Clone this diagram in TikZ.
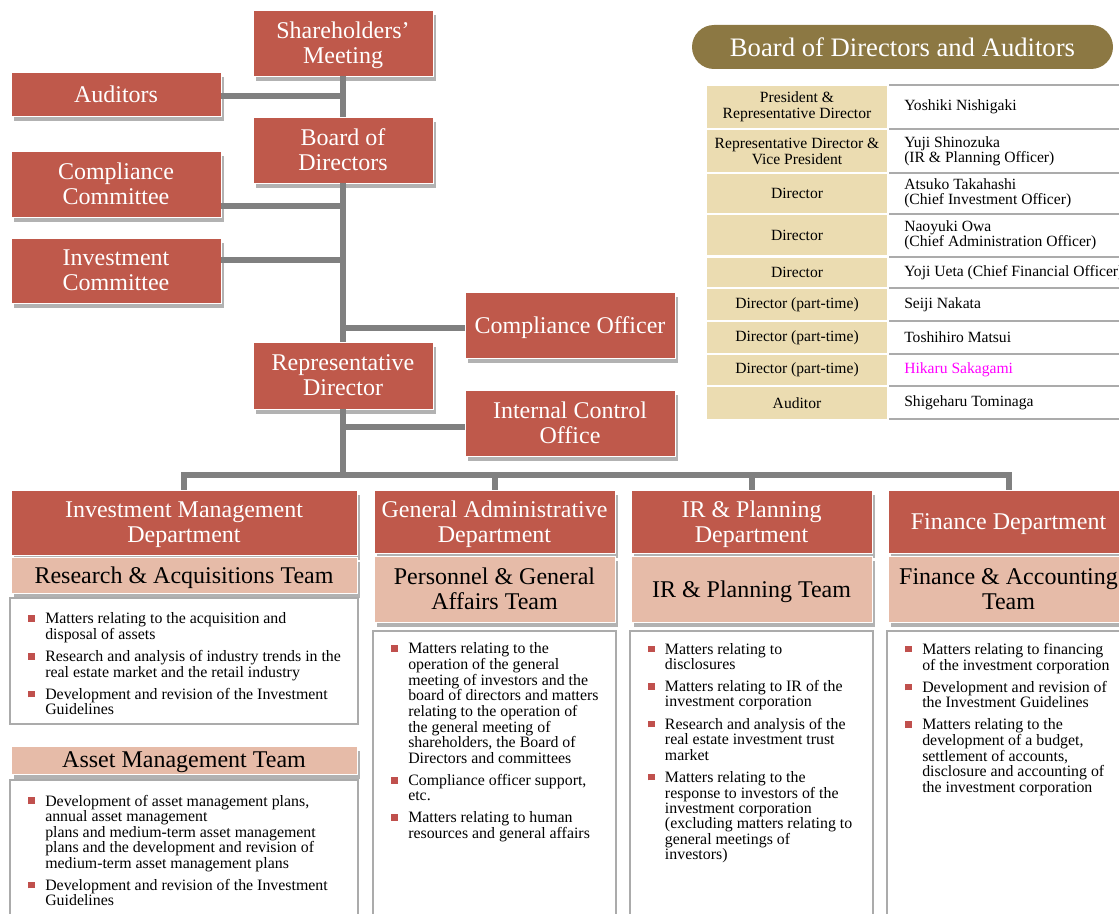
\documentclass[tikz,border=0pt]{standalone}
\usepackage{fontspec}
\setmainfont{Liberation Serif}
\usetikzlibrary{shadows, positioning, calc}

\definecolor{boxred}{HTML}{BF594B}
\definecolor{teampeach}{HTML}{E6BBA8}
\definecolor{shadowgray}{HTML}{B2B2B2}
\definecolor{linkgray}{HTML}{808080}
\definecolor{titleolive}{HTML}{8C7843}
\definecolor{rolebeige}{HTML}{EBDCB1}
\definecolor{rulegray}{HTML}{ABABAB}
\definecolor{bulred}{HTML}{C0504D}
\definecolor{namemagenta}{HTML}{FF00FF}

\newcommand{\sq}{\textcolor{bulred}{\rule[1.5pt]{5pt}{5pt}}}

\begin{document}
\begin{tikzpicture}[x=0.75pt, y=-0.75pt,
    % Define styles
    orgbox/.style={rectangle, draw=white, line width=0.6pt, fill=boxred, text=white, align=center, inner sep=0pt,
      font=\fontsize{18}{18.75}\selectfont, text depth=0pt,
      drop shadow={shadow xshift=2.5pt, shadow yshift=-4pt, fill=shadowgray, opacity=1}},
    teambox/.style={rectangle, draw=white, line width=0.6pt, fill=teampeach, align=center, inner sep=0pt,
      font=\fontsize{18}{18.75}\selectfont, text depth=0pt,
      drop shadow={shadow xshift=2.5pt, shadow yshift=-4pt, fill=shadowgray, opacity=1}},
    itembox/.style={rectangle, draw=rulegray, line width=1.5pt, fill=white, anchor=north, inner sep=0pt},
    itemlist/.style={anchor=north west, inner sep=0pt, font=\fontsize{11.9}{11.2}\selectfont},
    link/.style={draw=linkgray, line width=4.5pt},
    titlepill/.style={rectangle, rounded corners=16.5pt, fill=titleolive, text=white, minimum width=315.75pt,
      minimum height=33pt, font=\fontsize{20}{22}\selectfont},
    rolecell/.style={rectangle, fill=rolebeige, minimum width=135pt, align=center, inner sep=0pt,
      font=\fontsize{11.7}{12}\selectfont},
    namecell/.style={anchor=west, align=left, inner sep=0pt, font=\fontsize{11.7}{11.3}\selectfont},
    namerule/.style={draw=rulegray, line width=1.5pt}
  ]

  \useasboundingbox (0,0) rectangle (1119,913);

  % Governance boxes
  \node[orgbox, minimum width=135pt, minimum height=49.5pt] (share) at (343,43) {Shareholders'\\Meeting};
  \node[orgbox, minimum width=157.5pt, minimum height=33pt] (auditors) at (116,94) {Auditors};
  \node[orgbox, minimum width=135pt, minimum height=49.5pt] (board) at (343,150) {Board of\\Directors};
  \node[orgbox, minimum width=157.5pt, minimum height=49.5pt] (ccom) at (116,184) {Compliance\\Committee};
  \node[orgbox, minimum width=157.5pt, minimum height=48.75pt] (icom) at (116,270.5) {Investment\\Committee};
  \node[orgbox, minimum width=157.5pt, minimum height=49.5pt] (cofficer) at (570,325) {Compliance Officer};
  \node[orgbox, minimum width=135pt, minimum height=50.25pt] (repdir) at (343,375.5) {Representative\\Director};
  \node[orgbox, minimum width=157.5pt, minimum height=49.5pt] (ico) at (570,423) {Internal Control\\Office};

  % Trunk joints
  \coordinate (jaud) at (343,96);
  \coordinate (jccom) at (343,206);
  \coordinate (jicom) at (343,260);
  \coordinate (jcoff) at (343,327.5);
  \coordinate (jico) at (343,427);
  \coordinate (bar) at (343,474.5);

  \draw[link] (share.south) -- (board.north);
  \draw[link] (board.south) -- (repdir.north);
  \draw[link] (repdir.south) -- (bar);
  \draw[link] (auditors.east |- jaud) -- (jaud);
  \draw[link] (ccom.east |- jccom) -- (jccom);
  \draw[link] (icom.east |- jicom) -- (jicom);
  \draw[link] (jcoff) -- (cofficer.west |- jcoff);
  \draw[link] (jico) -- (ico.west |- jico);

  % Departments
  \node[orgbox, minimum width=259.5pt, minimum height=48.75pt] (imdept) at (184,522.5) {Investment Management\\Department};
  \node[orgbox, minimum width=180.75pt, minimum height=47.25pt] (gadept) at (494.5,521.5) {General Administrative\\Department};
  \node[orgbox, minimum width=180.75pt, minimum height=47.25pt] (irdept) at (751.5,521.5) {IR \& Planning\\Department};
  \node[orgbox, minimum width=180.75pt, minimum height=47.25pt] (fndept) at (1008.5,521.5) {Finance Department};

  \draw[link, line join=miter] (imdept.north) -- (imdept.north |- bar) -- (fndept.north |- bar) -- (fndept.north);
  \draw[link] (gadept.north |- bar) -- (gadept.north);
  \draw[link] (irdept.north |- bar) -- (irdept.north);

  % Teams
  \node[teambox, minimum width=259.5pt, minimum height=27pt] (raTeam) at (184,575) {Research \& Acquisitions Team};
  \node[teambox, minimum width=180.75pt, minimum height=49.5pt] (pgTeam) at (494.5,589) {Personnel \& General\\Affairs Team};
  \node[teambox, minimum width=180.75pt, minimum height=49.5pt] (irTeam) at (751.5,589) {IR \& Planning Team};
  \node[teambox, minimum width=180.75pt, minimum height=49.5pt] (faTeam) at (1008.5,589) {Finance \& Accounting\\Team};

  % Duty boxes
  \node[itembox, minimum width=261pt, minimum height=94.5pt] (raItems) at (184,597) {};
  \node[teambox, minimum width=259.5pt, minimum height=21pt] (amTeam) at (184,760) {Asset Management Team};
  \node[itembox, minimum width=261pt, minimum height=105.75pt] (amItems) at (184,779) {};
  \node[itembox, minimum width=182.25pt, minimum height=217.5pt] (pgItems) at (494.5,630) {};
  \node[itembox, minimum width=182.25pt, minimum height=217.5pt] (irItems) at (751.5,630) {};
  \node[itembox, minimum width=182.25pt, minimum height=217.5pt] (faItems) at (1008.5,630) {};

  \node[itemlist] (raList) at (28,612.3) {\begin{tabular}{@{}p{12.75pt}@{}l@{}}
    \sq & Matters relating to the acquisition and\\
        & disposal of assets\\[5pt]
    \sq & Research and analysis of industry trends in the\\
        & real estate market and the retail industry\\[5pt]
    \sq & Development and revision of the Investment\\
        & Guidelines
  \end{tabular}};

  \node[itemlist] (amList) at (28,794.6) {\begin{tabular}{@{}p{12.75pt}@{}l@{}}
    \sq & Development of asset management plans,\\
        & annual asset management\\
        & plans and medium-term asset management\\
        & plans and the development and revision of\\
        & medium-term asset management plans\\[5pt]
    \sq & Development and revision of the Investment\\
        & Guidelines
  \end{tabular}};

  \node[itemlist] (pgList) at (391,642.6) {\begin{tabular}{@{}p{12.75pt}@{}l@{}}
    \sq & Matters relating to the\\
        & operation of the general\\
        & meeting of investors and the\\
        & board of directors and matters\\
        & relating to the operation of\\
        & the general meeting of\\
        & shareholders, the Board of\\
        & Directors and committees\\[5pt]
    \sq & Compliance officer support,\\
        & etc.\\[5pt]
    \sq & Matters relating to human\\
        & resources and general affairs
  \end{tabular}};

  \node[itemlist] (irList) at (647.7,642.9) {\begin{tabular}{@{}p{12.75pt}@{}l@{}}
    \sq & Matters relating to\\
        & disclosures\\[5pt]
    \sq & Matters relating to IR of the\\
        & investment corporation\\[5pt]
    \sq & Research and analysis of the\\
        & real estate investment trust\\
        & market\\[5pt]
    \sq & Matters relating to the\\
        & response to investors of the\\
        & investment corporation\\
        & (excluding matters relating to\\
        & general meetings of\\
        & investors)
  \end{tabular}};

  \node[itemlist] (faList) at (905,642.9) {\begin{tabular}{@{}p{12.75pt}@{}l@{}}
    \sq & Matters relating to financing\\
        & of the investment corporation\\[5pt]
    \sq & Development and revision of\\
        & the Investment Guidelines\\[5pt]
    \sq & Matters relating to the\\
        & development of a budget,\\
        & settlement of accounts,\\
        & disclosure and accounting of\\
        & the investment corporation
  \end{tabular}};

  % Board of Directors and Auditors
  \node[titlepill] (title) at (902.5,47) {Board of Directors and Auditors};

  \node[rolecell, minimum height=31.5pt] (role1) at (797,107) {President \&\\Representative Director};
  \node[rolecell, minimum height=31.5pt] (role2) at (797,151) {Representative Director \&\\Vice President};
  \node[rolecell, minimum height=29.6pt] (role3) at (797,193.3) {Director};
  \node[rolecell, minimum height=30pt] (role4) at (797,235) {Director};
  \node[rolecell, minimum height=22.1pt] (role5) at (797,272.3) {Director};
  \node[rolecell, minimum height=22.9pt] (role6) at (797,304.3) {Director (part-time)};
  \node[rolecell, minimum height=23.6pt] (role7) at (797,337.3) {Director (part-time)};
  \node[rolecell, minimum height=22.5pt] (role8) at (797,370) {Director (part-time)};
  \node[rolecell, minimum height=23.6pt] (role9) at (797,402.8) {Auditor};

  \node[namecell] (name1) at (904,107) {Yoshiki Nishigaki};
  \node[namecell] (name2) at (904,151) {Yuji Shinozuka\\(IR \& Planning Officer)};
  \node[namecell] (name3) at (904,193.3) {Atsuko Takahashi\\(Chief Investment Officer)};
  \node[namecell] (name4) at (904,235) {Naoyuki Owa\\(Chief Administration Officer)};
  \node[namecell] (name5) at (904,272.3) {Yoji Ueta (Chief Financial Officer)};
  \node[namecell] (name6) at (904,304.3) {Seiji Nakata};
  \node[namecell] (name7) at (904,337.3) {Toshihiro Matsui};
  \node[namecell, text=namemagenta] (name8) at (904,370) {Hikaru Sakagami};
  \node[namecell] (name9) at (904,402.8) {Shigeharu Tominaga};

  \draw[namerule] (889,85.5) -- (1125,85.5);
  \draw[namerule] (889,129) -- (1125,129);
  \draw[namerule] (889,172.5) -- (1125,172.5);
  \draw[namerule] (889,214) -- (1125,214);
  \draw[namerule] (889,256.5) -- (1125,256.5);
  \draw[namerule] (889,288) -- (1125,288);
  \draw[namerule] (889,320.5) -- (1125,320.5);
  \draw[namerule] (889,354) -- (1125,354);
  \draw[namerule] (889,386) -- (1125,386);
  \draw[namerule] (889,419) -- (1125,419);

\end{tikzpicture}
\end{document}
